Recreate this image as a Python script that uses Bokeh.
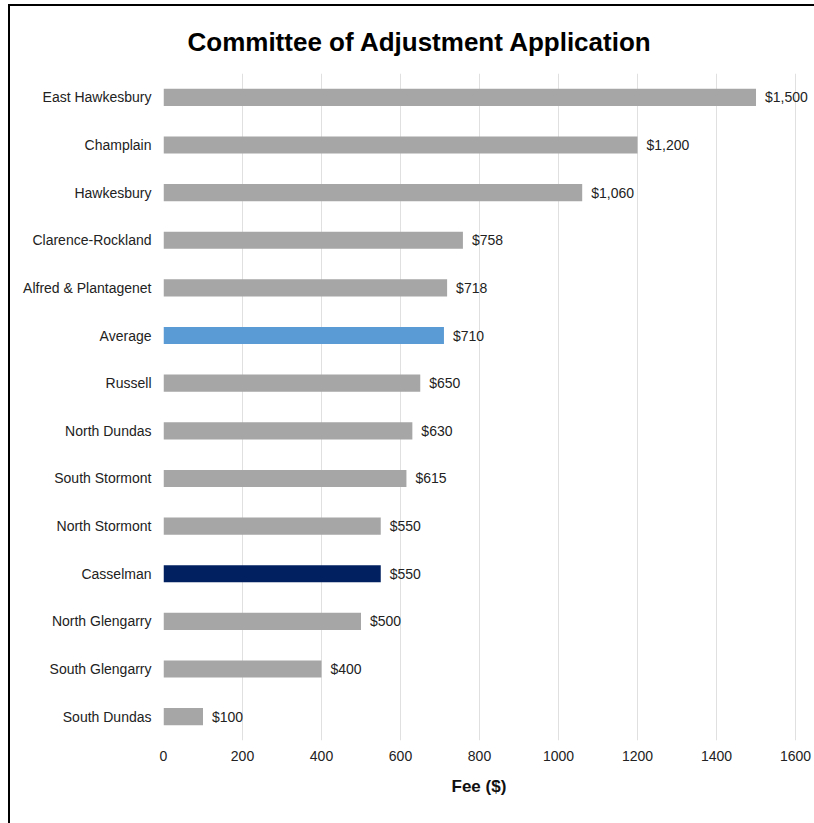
from bokeh.plotting import figure
from bokeh.models import FactorRange, Range1d, FixedTicker, ColumnDataSource, Title
from bokeh.layouts import column
from bokeh.embed import file_html
from bokeh.resources import INLINE
from bokeh.core.properties import value

municipalities = ["East Hawkesbury", "Champlain", "Hawkesbury", "Clarence-Rockland",
                  "Alfred & Plantagenet", "Average", "Russell", "North Dundas",
                  "South Stormont", "North Stormont", "Casselman", "North Glengarry",
                  "South Glengarry", "South Dundas"]
fees = [1500, 1200, 1060, 758, 718, 710, 650, 630, 615, 550, 550, 500, 400, 100]
fee_labels = ["$1,500", "$1,200", "$1,060", "$758", "$718", "$710", "$650", "$630",
              "$615", "$550", "$550", "$500", "$400", "$100"]
x_ticks = [0, 200, 400, 600, 800, 1000, 1200, 1400, 1600]

GRAY = "#a6a6a6"
colors = ["#5b9bd5" if m == "Average" else "#002060" if m == "Casselman" else GRAY
          for m in municipalities]

FONT = "Liberation Sans"

src = ColumnDataSource(dict(m=municipalities, fee=fees, lab=fee_labels, color=colors))

p = figure(width=804, height=817, output_backend="svg", toolbar_location=None,
           y_range=FactorRange(factors=list(reversed(municipalities)), range_padding=0),
           x_range=Range1d(0, 1643),
           min_border_left=153, min_border_right=2, min_border_top=67, min_border_bottom=83)

p.title = Title(text="Committee of Adjustment Application", align="left", offset=24,
                text_font=FONT, text_font_size="26px", text_font_style="bold",
                text_color="#000000", standoff=33)

p.hbar(y="m", right="fee", left=0, height=0.36, fill_color="color", line_color=None, source=src)
p.text(x="fee", y="m", text="lab", source=src, x_offset=9, text_baseline="middle",
       text_align="left", text_font=value(FONT), text_font_size="14px", text_color="#222222")

p.outline_line_color = None
p.ygrid.grid_line_color = None
p.xgrid.grid_line_color = "#e0e0e0"
p.xgrid.grid_line_width = 1

p.xaxis.ticker = FixedTicker(ticks=x_ticks)
for ax in (p.xaxis[0], p.yaxis[0]):
    ax.axis_line_color = None
    ax.major_tick_line_color = None
    ax.minor_tick_line_color = None
    ax.major_label_text_font = FONT
    ax.major_label_text_font_size = "14px"
    ax.major_label_text_color = "#222222"
p.xaxis.major_label_standoff = 4
p.yaxis.major_label_standoff = 6

# x-axis title, placed so it is centred under the 0-1600 span
p.add_layout(Title(text="Fee ($)", align="left", offset=288, text_font=FONT,
                   text_font_size="17px", text_font_style="bold", text_color="#111111",
                   standoff=22), "below")

layout = column(p, styles={"margin-left": "8px", "margin-top": "4px",
                           "border-left": "2px solid black", "border-top": "2px solid black"})

open("out.html", "w").write(file_html(layout, INLINE))
